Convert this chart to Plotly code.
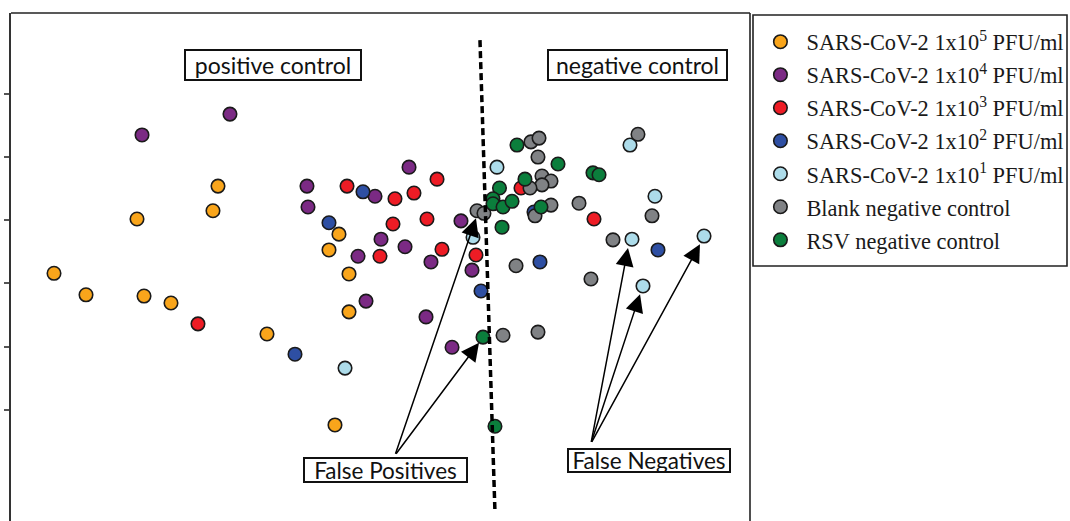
import plotly.graph_objects as go

# ---- data (arbitrary score units) ----
names = [
    "SARS-CoV-2 1x10<sup>5</sup> PFU/ml",
    "SARS-CoV-2 1x10<sup>4</sup> PFU/ml",
    "SARS-CoV-2 1x10<sup>3</sup> PFU/ml",
    "SARS-CoV-2 1x10<sup>2</sup> PFU/ml",
    "SARS-CoV-2 1x10<sup>1</sup> PFU/ml",
    "Blank negative control",
    "RSV negative control",
]
colors = ["#F9A51B", "#7B2A84", "#EE1C25", "#2E4FA3", "#ADDCEA", "#808285", "#0B7E3C"]

x_1e5 = [5.82, 10.15, 18.0, 21.65, 17.05, 27.33, 28.01, 34.64, 43.03, 44.38, 45.74, 45.74, 43.84]
y_1e5 = [3.16, 2.82, 2.80, 2.69, 4.02, 4.15, 4.54, 2.20, 3.53, 3.78, 3.15, 2.55, 0.76]

x_1e4 = [17.73, 29.63, 40.05, 40.19, 53.86, 49.26, 60.89, 50.07, 46.96, 53.32, 56.83, 62.38, 48.04, 56.16, 59.68]
y_1e4 = [5.35, 5.68, 4.54, 4.21, 4.84, 4.38, 3.99, 3.70, 3.43, 3.58, 3.34, 3.21, 2.72, 2.47, 1.99]

x_1e3 = [25.3, 45.47, 57.65, 51.96, 54.53, 51.69, 56.29, 49.93, 58.32, 62.92, 69.01, 78.89]
y_1e3 = [2.36, 4.54, 4.65, 4.34, 4.43, 3.94, 4.02, 3.43, 3.54, 3.45, 4.51, 4.02]

x_1e2 = [38.43, 43.03, 47.63, 63.6, 71.58, 70.77, 87.55]
y_1e2 = [1.88, 3.96, 4.45, 2.88, 3.34, 4.13, 3.53]

x_1e1 = [45.2, 65.76, 62.52, 83.76, 87.14, 84.03, 85.52, 93.78]
y_1e1 = [1.66, 4.84, 3.73, 5.19, 4.38, 3.70, 2.96, 3.75]

x_blank = [63.06, 64.0, 70.36, 71.45, 71.31, 71.85, 73.07, 71.85, 70.23, 73.07, 70.91, 76.86,
           84.84, 86.74, 81.46, 68.34, 78.48, 66.58, 71.31]
y_blank = [4.15, 4.11, 5.24, 5.30, 5.0, 4.70, 4.62, 4.56, 4.51, 4.24, 4.07, 4.27,
           5.36, 4.07, 3.69, 3.28, 3.07, 2.18, 2.23]

x_rsv = [68.47, 74.02, 69.55, 66.1, 65.22, 65.22, 66.58, 67.8, 71.72, 78.75, 79.57, 66.44, 63.87, 65.49]
y_rsv = [5.19, 4.89, 4.65, 4.51, 4.34, 4.26, 4.21, 4.30, 4.21, 4.75, 4.72, 3.89, 2.15, 0.74]

xs = [x_1e5, x_1e4, x_1e3, x_1e2, x_1e1, x_blank, x_rsv]
ys = [y_1e5, y_1e4, y_1e3, y_1e2, y_1e1, y_blank, y_rsv]

y_ticks = [1, 2, 3, 4, 5, 6]

# decision boundary (dotted line) end points
boundary_x = [63.46, 65.49]
boundary_y = [6.85, -0.62]

fig = go.Figure()
for i in range(len(names)):
    fig.add_trace(go.Scatter(
        x=xs[i], y=ys[i], mode="markers", name=names[i], legendgroup="g%d" % i,
        marker=dict(size=13.5, color=colors[i], line=dict(width=1.6, color="#1a1a1a")),
    ))

shapes = [
    dict(type="line", xref="x", yref="y", x0=boundary_x[0], y0=boundary_y[0],
         x1=boundary_x[1], y1=boundary_y[1], line=dict(color="black", width=3.5, dash="7px,4px")),
    dict(type="line", xref="paper", yref="paper", x0=0, x1=1, y0=1, y1=1,
         line=dict(color="#222", width=1.6)),
    dict(type="line", xref="paper", yref="paper", x0=1, x1=1, y0=0, y1=1,
         line=dict(color="#222", width=1.6)),
    # legend frame
    dict(type="rect", xref="paper", yref="paper",
         x0=(753 - 11) / 739, x1=(1067 - 11) / 739,
         y0=(521 - 266) / 508, y1=(521 - 15) / 508,
         line=dict(color="#222", width=1.6), fillcolor="rgba(0,0,0,0)"),
]

box_font = dict(family="Lato", size=23, color="#111")
lab_font = dict(family="Lato", size=22.5, color="#111")
annotations = [
    dict(text="positive control", x=35.52, y=6.45, xref="x", yref="y", showarrow=False,
         font=box_font, bordercolor="#111", borderwidth=2, borderpad=1, bgcolor="white",
         width=172, height=26),
    dict(text="negative control", x=84.71, y=6.45, xref="x", yref="y", showarrow=False,
         font=box_font, bordercolor="#111", borderwidth=2, borderpad=1, bgcolor="white",
         width=175, height=26),
    dict(text="False Positives", x=50.68, y=0.05, xref="x", yref="y", showarrow=False,
         font=lab_font, bordercolor="#111", borderwidth=2, borderpad=0, bgcolor="white",
         width=161, height=22),
    dict(text="False Negatives", x=86.33, y=0.20, xref="x", yref="y", showarrow=False,
         font=lab_font, bordercolor="#111", borderwidth=2, borderpad=0, bgcolor="white",
         width=160, height=21),
]

arrows = [
    ((51.96, 0.28), (62.92, 4.03)),
    ((51.96, 0.28), (63.33, 2.06)),
    ((78.48, 0.47), (83.49, 3.56)),
    ((78.48, 0.47), (85.12, 2.83)),
    ((78.48, 0.47), (93.23, 3.62)),
]
for (tail, head) in arrows:
    annotations.append(dict(
        text="", x=head[0], y=head[1], ax=tail[0], ay=tail[1], xref="x", yref="y",
        axref="x", ayref="y", showarrow=True, arrowhead=2, arrowsize=2.4,
        arrowwidth=1.5, arrowcolor="black", standoff=0, startstandoff=0,
    ))

fig.update_layout(
    width=1070, height=521,
    margin=dict(l=11, r=320, t=13, b=0, autoexpand=False),
    paper_bgcolor="white", plot_bgcolor="white",
    showlegend=True,
    legend=dict(
        x=1.006, y=0.985, xanchor="left", yanchor="top",
        font=dict(family="Liberation Serif", size=22.4, color="#1a1a1a"),
        borderwidth=0, bgcolor="rgba(0,0,0,0)",
        itemwidth=42, tracegroupgap=0.9, traceorder="grouped",
    ),
    xaxis=dict(range=[0, 100], showgrid=False, zeroline=False, showline=False,
               showticklabels=False, ticks=""),
    yaxis=dict(range=[-0.76, 7.28], showgrid=False, zeroline=False, showline=True,
               linecolor="#333", linewidth=2, ticks="outside", ticklen=5, tickwidth=1.5,
               tickcolor="#555", tickvals=y_ticks, showticklabels=False),
    shapes=shapes,
    annotations=annotations,
)

fig.write_html("out.html")
